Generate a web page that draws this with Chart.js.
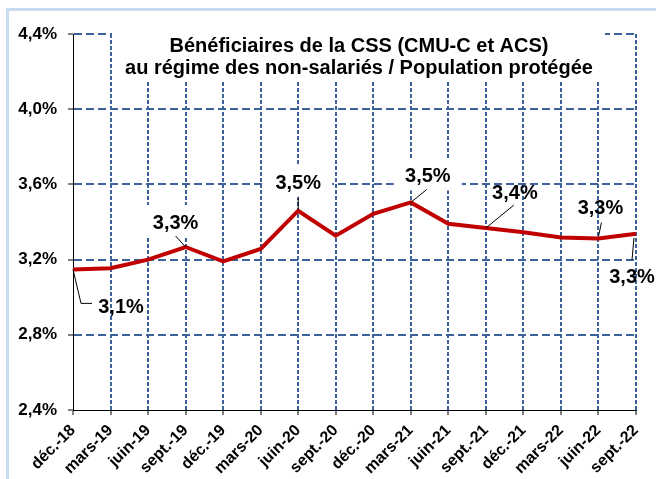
<!DOCTYPE html>
<html lang="fr">
<head>
<meta charset="UTF-8" />
<title>Bénéficiaires de la CSS</title>
<script src="https://cdn.jsdelivr.net/npm/chart.js@4"></script>
<style>
  body { margin: 0; background: #fff; }
  #wrap { position: relative; width: 656px; height: 479px; overflow: hidden; }
  #cadre { position: absolute; left: 6px; top: 8px; width: 700px; height: 500px;
           border-left: 3px solid #c9dbf1; border-top: 3px solid #c9dbf1; }
  #graphe { position: absolute; left: 0; top: 0; }
</style>
</head>
<body>
<div id="wrap">
  <div id="cadre"></div>
  <canvas id="graphe" width="656" height="479"></canvas>
</div>
<script>
  const trimestres = ['déc.-18', 'mars-19', 'juin-19', 'sept.-19', 'déc.-19', 'mars-20', 'juin-20', 'sept.-20',
                      'déc.-20', 'mars-21', 'juin-21', 'sept.-21', 'déc.-21', 'mars-22', 'juin-22', 'sept.-22'];
  const tauxCSS = [3.148, 3.154, 3.20, 3.267, 3.191, 3.257, 3.460, 3.327,
                   3.444, 3.504, 3.391, 3.368, 3.345, 3.318, 3.312, 3.337];
  const ticksY = [2.4, 2.8, 3.2, 3.6, 4.0, 4.4];
  const titre = ['Bénéficiaires de la CSS (CMU-C et ACS)', 'au régime des non-salariés / Population protégée'];
  const pointsEtiquetes = [0, 3, 6, 9, 11, 14, 15];

  // placement des étiquettes (décalage par rapport au point, trait de rappel, fond blanc)
  const placement = {
    0:  { dx: 48,  dy: 37,  trait: [[0, 0], [8, 34], [19, 34]], fond: false },
    3:  { dx: -10, dy: -25, trait: [[-10, -11], [0, 0]], fond: true },
    6:  { dx: 0,   dy: -28, trait: [[0, -14], [0, -1]], fond: true },
    9:  { dx: 17,  dy: -27, trait: [[16, -13], [0, 0]], fond: true },
    11: { dx: 29,  dy: -36, trait: [[28, -23], [0, 0]], fond: false },
    14: { dx: 2,   dy: -31, trait: [[3, -16], [0, -2]], fond: false },
    15: { dx: -4,  dy: 43,  trait: [[-2, 4], [-4, 26]], fond: false }
  };

  const police = '"Liberation Sans", Arial, sans-serif';
  Chart.defaults.font.family = police;
  Chart.defaults.color = '#000';

  const pct = v => v.toFixed(1).replace('.', ',') + '%';
  const bleu = '#3c649b';

  const habillage = {
    id: 'habillage',
    beforeDatasetsDraw(chart) {
      const ctx = chart.ctx;
      const x = chart.scales.x, y = chart.scales.y;
      ctx.save();
      ctx.fillStyle = '#fff';
      ctx.fillRect(112, 30, 493, 52);
      pointsEtiquetes.forEach(i => {
        const p = placement[i];
        if (!p.fond) return;
        const cx = x.getPixelForValue(i) + p.dx;
        const cy = y.getPixelForValue(tauxCSS[i]) + p.dy;
        ctx.fillRect(cx - 34, cy - 17, 68, 32);
      });
      ctx.restore();
    },
    afterDatasetsDraw(chart) {
      const ctx = chart.ctx;
      const x = chart.scales.x, y = chart.scales.y;
      ctx.save();
      ctx.fillStyle = '#000';
      ctx.textAlign = 'center';
      ctx.textBaseline = 'middle';
      ctx.font = 'bold 20px ' + police;
      ctx.fillText(titre[0], 359, 46);
      ctx.fillText(titre[1], 359, 68);

      ctx.font = 'bold 20px ' + police;
      ctx.strokeStyle = '#000';
      ctx.lineWidth = 1;
      pointsEtiquetes.forEach(i => {
        const p = placement[i];
        const px = x.getPixelForValue(i);
        const py = y.getPixelForValue(tauxCSS[i]);
        ctx.beginPath();
        p.trait.forEach(([a, b], k) => k ? ctx.lineTo(px + a, py + b) : ctx.moveTo(px + a, py + b));
        ctx.stroke();
        ctx.fillText(pct(tauxCSS[i]), px + p.dx, py + p.dy + 1);
      });
      ctx.restore();
    }
  };

  new Chart(document.getElementById('graphe'), {
    type: 'line',
    data: {
      labels: trimestres,
      datasets: [{
        data: tauxCSS,
        borderColor: '#c00000',
        borderWidth: 4,
        pointRadius: 0,
        tension: 0,
        fill: false
      }]
    },
    options: {
      responsive: false,
      animation: false,
      layout: { padding: { top: 34, right: 20, left: 0, bottom: 0 } },
      plugins: { legend: { display: false }, title: { display: false }, tooltip: { enabled: false } },
      scales: {
        x: {
          afterFit: s => { s.height = 69; },
          grid: {
            color: c => c.index === 0 ? 'rgba(0,0,0,0)' : bleu,
            lineWidth: 2,
            tickColor: '#000',
            tickWidth: 1,
            tickLength: 5
          },
          border: { color: '#000', width: 1, dash: [4, 2] },
          ticks: {
            autoSkip: false,
            maxRotation: 45,
            minRotation: 45,
            padding: 6,
            font: { size: 16, weight: 'bold' }
          }
        },
        y: {
          min: 2.4,
          max: 4.4,
          afterBuildTicks: s => { s.ticks = ticksY.map(v => ({ value: v })); },
          afterFit: s => { s.width = 73; },
          grid: {
            color: c => c.index === 0 ? 'rgba(0,0,0,0)' : bleu,
            lineWidth: 2,
            tickColor: '#000',
            tickWidth: 1,
            tickLength: 5
          },
          border: { color: '#000', width: 1, dash: [8, 4] },
          ticks: {
            padding: 11,
            callback: v => pct(v),
            font: { size: 17, weight: 'bold' }
          }
        }
      }
    },
    plugins: [habillage]
  });
</script>
</body>
</html>
